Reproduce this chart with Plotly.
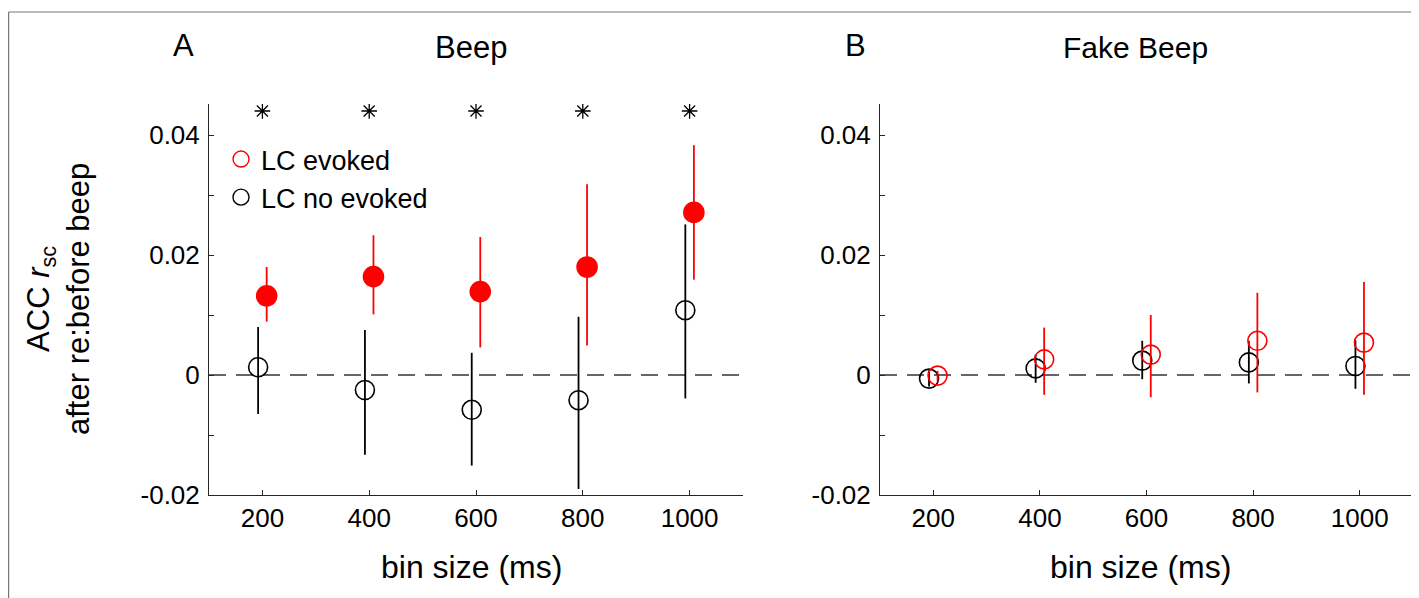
import plotly.graph_objects as go

# ---------------- data ----------------
bins = [200, 400, 600, 800, 1000]

# Panel A (Beep)
a_evoked = [0.0132, 0.0164, 0.0139, 0.0180, 0.0271]
a_evoked_hi = [0.0180, 0.0233, 0.0230, 0.0318, 0.0383]
a_evoked_lo = [0.0089, 0.0101, 0.0046, 0.0049, 0.0159]

a_noev = [0.0013, -0.0025, -0.0058, -0.0042, 0.0108]
a_noev_hi = [0.0080, 0.0075, 0.0037, 0.0097, 0.0251]
a_noev_lo = [-0.0065, -0.0133, -0.0151, -0.0190, -0.0039]

# Panel B (Fake Beep)
b_evoked = [-0.0001, 0.0026, 0.0034, 0.0057, 0.0054]
b_evoked_hi = [0.0007, 0.0079, 0.0100, 0.0137, 0.0155]
b_evoked_lo = [-0.0011, -0.0033, -0.0037, -0.0029, -0.0033]

b_noev = [-0.0006, 0.0011, 0.0024, 0.0021, 0.0015]
b_noev_hi = [0.0008, 0.0034, 0.0057, 0.0057, 0.0058]
b_noev_lo = [-0.0019, -0.0013, -0.0007, -0.0014, -0.0023]

sig_level = [0.044] * 5  # significance asterisks (panel A)

y_tickvals = [-0.02, 0, 0.02, 0.04]
y_ticktext = ["-0.02", "0", "0.02", "0.04"]
y_minorvals = [-0.01, 0.01, 0.03]
x_ticktext = ["200", "400", "600", "800", "1000"]

# ---------------- layout helpers ----------------
# the page body has an 8px margin; figure is placed at (8, 8)
W, H = 1411, 590
ML, MR, MT, MB = 201, 6, 96, 103
PW, PH = W - ML - MR, H - MT - MB
FONT = "Liberation Sans, Arial, Helvetica, sans-serif"
RED = "#ff0000"
BLK = "#000000"
OFF = 8


def px(xp):  # page pixel -> paper x
    return (xp - 8 - ML) / PW


def py(yp):  # page pixel -> paper y
    return (H - MB - (yp - 8)) / PH


def up(v, hi):
    return [h - c for c, h in zip(v, hi)]


def dn(v, lo):
    return [c - l for c, l in zip(v, lo)]


fig = go.Figure()


def add_series(xa, ya, v, hi, lo, color, filled, name):
    fig.add_trace(go.Scatter(
        x=[b + (OFF if color == RED else -OFF) for b in bins], y=v,
        mode="markers", xaxis=xa, yaxis=ya, showlegend=False, name=name,
        marker=dict(symbol="circle" if filled else "circle-open", size=20 if filled else 19,
                    color=color, line=dict(color=color, width=1.6)),
        error_y=dict(type="data", symmetric=False, array=up(v, hi), arrayminus=dn(v, lo),
                     color=color, thickness=1.8, width=0),
    ))


add_series("x", "y", a_noev, a_noev_hi, a_noev_lo, BLK, False, "LC no evoked")
add_series("x", "y", a_evoked, a_evoked_hi, a_evoked_lo, RED, True, "LC evoked")
add_series("x2", "y2", b_noev, b_noev_hi, b_noev_lo, BLK, False, "LC no evoked")
add_series("x2", "y2", b_evoked, b_evoked_hi, b_evoked_lo, RED, False, "LC evoked")

# significance stars
fig.add_trace(go.Scatter(
    x=bins, y=sig_level, mode="markers", xaxis="x", yaxis="y", showlegend=False,
    marker=dict(symbol="asterisk-open", size=13, color=BLK, line=dict(color=BLK, width=1.3)),
))

# legend entries
for nm, col in [("LC evoked", RED), ("LC no evoked", BLK)]:
    fig.add_trace(go.Scatter(
        x=[None], y=[None], mode="markers", name=nm, xaxis="x", yaxis="y",
        marker=dict(symbol="circle-open", size=20, color=col, line=dict(color=col, width=1.4)),
    ))

axis_common = dict(
    showline=True, linecolor="#262626", linewidth=1, ticks="inside", ticklen=5,
    tickcolor="#262626", showgrid=False, zeroline=False, mirror=False,
    tickfont=dict(family=FONT, size=26, color=BLK),
)
xaxis_common = dict(axis_common, range=[100, 1100], tickvals=bins, ticktext=x_ticktext)
yaxis_common = dict(axis_common, range=[-0.02, 0.04517], tickvals=y_tickvals, ticktext=y_ticktext,
                    ticklabelstandoff=3,
                    minor=dict(tickmode="array", tickvals=y_minorvals, ticks="inside", ticklen=5,
                               tickcolor="#262626", showgrid=False))

dA = [0, px(743)]
dB = [px(880), 1]

fig.update_layout(
    width=W, height=H,
    margin=dict(l=ML, r=MR, t=MT, b=MB, autoexpand=False),
    paper_bgcolor="white", plot_bgcolor="white",
    font=dict(family=FONT, color=BLK),
    xaxis=dict(xaxis_common, domain=dA, anchor="y"),
    yaxis=dict(yaxis_common, domain=[0, 1], anchor="x"),
    xaxis2=dict(xaxis_common, domain=dB, anchor="y2"),
    yaxis2=dict(yaxis_common, domain=[0, 1], anchor="x2"),
    legend=dict(x=px(221), y=py(135), xanchor="left", yanchor="top",
                font=dict(family=FONT, size=27, color=BLK), bgcolor="rgba(0,0,0,0)",
                itemwidth=30, tracegroupgap=0),
    showlegend=True,
)

# zero reference lines
for xr, yr in [("x", "y"), ("x2", "y2")]:
    fig.add_shape(type="line", xref=xr, yref=yr, x0=100, x1=1100, y0=0, y1=0,
                  line=dict(color="#333333", width=1.5, dash="17px,10px"), layer="below")

# outer frame (top & left)
fig.add_shape(type="line", xref="paper", yref="paper", x0=px(8.6), x1=px(1425), y0=py(12), y1=py(12),
              line=dict(color="#777777", width=1.2))
fig.add_shape(type="line", xref="paper", yref="paper", x0=px(8.6), x1=px(8.6), y0=py(12), y1=py(605),
              line=dict(color="#777777", width=1.2))

ann = []


def text(x, y, s, size, **kw):
    ann.append(dict(x=px(x), y=py(y), xref="paper", yref="paper", text=s, showarrow=False,
                    font=dict(family=FONT, size=size, color=BLK), xanchor="center",
                    yanchor="middle", **kw))


text(183, 46, "A", 31)
text(471, 48, "Beep", 31)
text(855, 46, "B", 31)
text(1135, 48, "Fake Beep", 30)
text(471, 567, "bin size (ms)", 32)
text(1140, 567, "bin size (ms)", 32)
text(58, 299, "ACC <i>r</i><sub>sc</sub><br>after re:before beep", 31, textangle=-90)

fig.update_layout(annotations=ann)

fig.write_html("out.html")
